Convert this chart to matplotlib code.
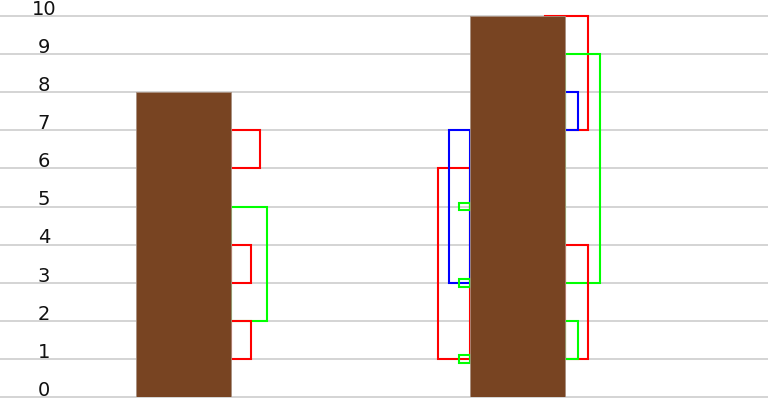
import matplotlib
matplotlib.use("Agg")
import matplotlib.pyplot as plt
from matplotlib.patches import Rectangle
import matplotlib.transforms as mtransforms

# Data
bar_positions = [0, 1]
bar_values = [8, 10]
y_ticks = list(range(0, 11))

# brackets: bar index, side (+1 right, -1 left), low, high, colour
br_bar = [0, 0, 0, 0, 1, 1, 1, 1, 1, 1, 1, 1, 1, 1]
br_side = [1, 1, 1, 1, -1, -1, -1, -1, -1, 1, 1, 1, 1, 1]
br_low = [6, 2, 3, 1, 1, 3, 4.9, 2.9, 0.9, 7, 7, 3, 1, 1]
br_high = [7, 5, 4, 2, 6, 7, 5.1, 3.1, 1.1, 10, 8, 9, 4, 2]
br_color = ["#ff0000", "#00ff00", "#ff0000", "#ff0000",
            "#ff0000", "#0000ff", "#00ff00", "#00ff00", "#00ff00",
            "#ff0000", "#0000ff", "#00ff00", "#ff0000", "#00ff00"]
br_depth = [0.087, 0.107, 0.060, 0.060,
            0.096, 0.063, 0.033, 0.033, 0.033,
            0.069, 0.039, 0.105, 0.069, 0.039]
br_start = [0, 0, 0, 0, 0, 0, 0, 0, 0, -0.06, 0, 0, 0, 0]

bar_width = 0.284

fig = plt.figure(figsize=(7.68, 3.99), dpi=100)
ax = fig.add_axes([0, 2 / 399, 1, 381 / 399])
ax.set_xlim(-0.549, 1.75)
ax.set_ylim(0, 10)
ax.axis("off")

for t in y_ticks:
    ax.axhline(t, color="#d4d4d4", lw=1.4, zorder=0, clip_on=False)

trans = mtransforms.blended_transform_factory(ax.transAxes, ax.transData)
for t in y_ticks:
    ax.text(44 / 768, t + 0.03, str(t), transform=trans, ha="center",
            va="baseline", fontsize=14, color="#111111", family="DejaVu Sans")

for b, s, lo, hi, c, d, st in zip(br_bar, br_side, br_low, br_high,
                                   br_color, br_depth, br_start):
    edge = bar_positions[b] + s * bar_width / 2
    x0 = edge + s * st
    x1 = edge + s * d
    left = min(x0, x1)
    rect = Rectangle((left, lo), abs(x1 - x0), hi - lo, fill=False,
                     edgecolor=c, lw=1.5, zorder=1, clip_on=False)
    ax.add_patch(rect)

ax.bar(bar_positions, bar_values, width=bar_width, color="#784422",
       edgecolor="#a89080", linewidth=0.6, zorder=2)

fig.savefig("out.png", dpi=100)
